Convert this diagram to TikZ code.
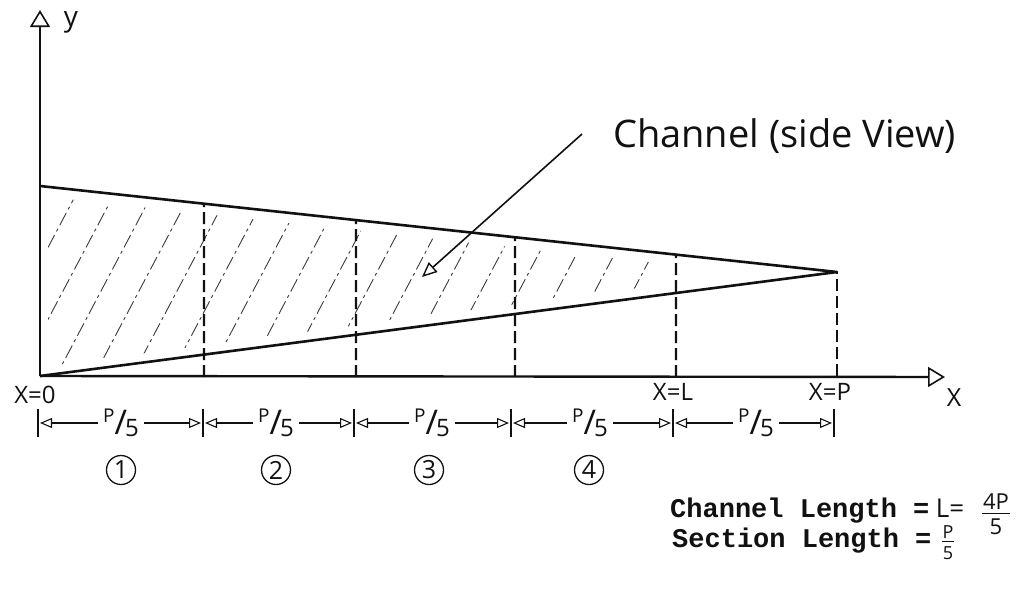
\documentclass[tikz,border=0pt]{standalone}
\usepackage{fontspec}
\setmainfont{Open Sans}
\setmonofont{Liberation Mono}
\usepackage{tikz}
\usetikzlibrary{arrows.meta,positioning,calc}
\definecolor{chink}{HTML}{111111}
\definecolor{chhatch}{HTML}{3A3A3A}
\setlength{\arrayrulewidth}{1.4pt}
\setlength{\tabcolsep}{1pt}
\newcommand{\pfifth}{\raisebox{12pt}{\fontsize{19}{19}\selectfont P}{\fontsize{34}{34}\selectfont/}\kern-2pt\raisebox{-2pt}{\fontsize{24}{24}\selectfont 5}}
\newcommand{\hfrac}[3]{\begin{tabular}{c}#2\\[-4pt]\hline\rule{0pt}{#1}#3\end{tabular}}

\begin{document}
\begin{tikzpicture}[x=1pt,y=-1pt,
  every node/.style={text=chink},
  hand/.style={inner sep=0pt,font=\fontsize{24}{26}\selectfont},
  handbig/.style={inner sep=0pt,font=\fontsize{38}{40}\selectfont},
  mono/.style={inner sep=0pt,font=\fontsize{27}{29}\selectfont\ttfamily\bfseries},
  circnum/.style={circle,draw=chink,line width=1.3pt,minimum size=29pt,inner sep=0pt,font=\fontsize{25}{25}\selectfont},
  axis/.style={chink,line width=2.4pt,-{Triangle[open,length=17pt,width=20pt,line width=1.6pt]}},
  wall/.style={chink,line width=2.6pt,line join=round},
  sect/.style={chink,line width=2.2pt,dash pattern=on 12pt off 5pt},
  hatch/.style={chhatch,line width=0.9pt,dash pattern=on 14pt off 4pt on 3pt off 4pt},
  pointer/.style={chink,line width=1.6pt,-{Triangle[open,length=15pt,width=13pt,line width=1.4pt]}},
  dim/.style={chink,line width=1.3pt,shorten >=2pt,-{Triangle[open,length=12pt,width=10pt,line width=1.1pt]}},
  tick/.style={chink,line width=1.6pt}]
  \useasboundingbox (0,0) rectangle (1031,605);
  % axes
  \coordinate (O) at (40,376);
  \coordinate (ytip) at (40,10);
  \coordinate (xtip) at (945,377);
  \draw[axis] (O) -- (ytip);
  \draw[axis] (O) -- (xtip);
  \node[hand,font=\fontsize{28}{30}\selectfont] (ylab) at (71,22) {y};
  \node[hand,font=\fontsize{25}{27}\selectfont] (xlab) at (954,398) {X};
  \node[hand] (x0) at (35,395) {X=0};
  \node[hand] (xL) at (673,392) {X=L};
  \node[hand] (xP) at (830,392) {X=P};
  % channel walls
  \coordinate (tl) at (40,186);
  \coordinate (apex) at (837,272);
  \begin{scope}
    \clip (48,197) -- (676,265) -- (676,283) -- (48,366) -- cycle;
    \foreach \h in {0,...,19}
      \draw[hatch] ({-60+38*\h},380) -- ++(112,-212);
  \end{scope}
  \draw[wall] (tl) -- (apex) -- (O);
  % section cuts
  \foreach \xx/\n in {204/1,356/2,515/3,676/4}{
    \coordinate (d\n) at (\xx,377);
    \draw[sect] (d\n) -- ($(tl)!{(\xx-40)/797}!(apex)$);
  }
  \coordinate (d5) at (apex|-O);
  \draw[sect] (d5) -- (apex);
  % label + pointer
  \node[handbig,anchor=west] (chlab) at (613,136) {Channel (side View)};
  \coordinate (ptip) at (422,277);
  \draw[pointer] ([xshift=-31pt,yshift=2pt]chlab.west) -- (ptip);
  % section lengths
  \foreach \xx [count=\i from 0] in {38,203,354,511,673,834}{
    \coordinate (t\i) at (\xx,423);
    \draw[tick] ($(t\i)+(0,-14)$) -- ($(t\i)+(0,14)$);
  }
  \foreach \cx [count=\i] in {121,276,432,590,756}
    \node[hand,inner xsep=5pt] (p\i) at (\cx,423) {\pfifth};
  \foreach \i [evaluate=\i as \j using int(\i-1)] in {1,...,5}{
    \draw[dim] (p\i.west) -- (t\j);
    \draw[dim] (p\i.east) -- (t\i);
  }
  \foreach \cx [count=\i] in {121,276,429,589}
    \node[circnum] (c\i) at (\cx,470) {\i};
  % lengths
  \node[mono,anchor=base west] (chlen) at (670,517) {Channel Length =};
  \node[hand,font=\fontsize{26}{28}\selectfont,anchor=base west] (leq) at ([xshift=6pt]chlen.base east) {L=};
  \node[inner sep=0pt,font=\fontsize{22}{24}\selectfont] (fr1) at (996,517) {\hfrac{20pt}{4P}{5}};
  \node[mono,anchor=base west] (seclen) at (672,547) {Section Length =};
  \node[inner sep=0pt,font=\fontsize{18}{20}\selectfont] (fr2) at (948,545) {\hfrac{17pt}{P}{5}};
\end{tikzpicture}
\end{document}
